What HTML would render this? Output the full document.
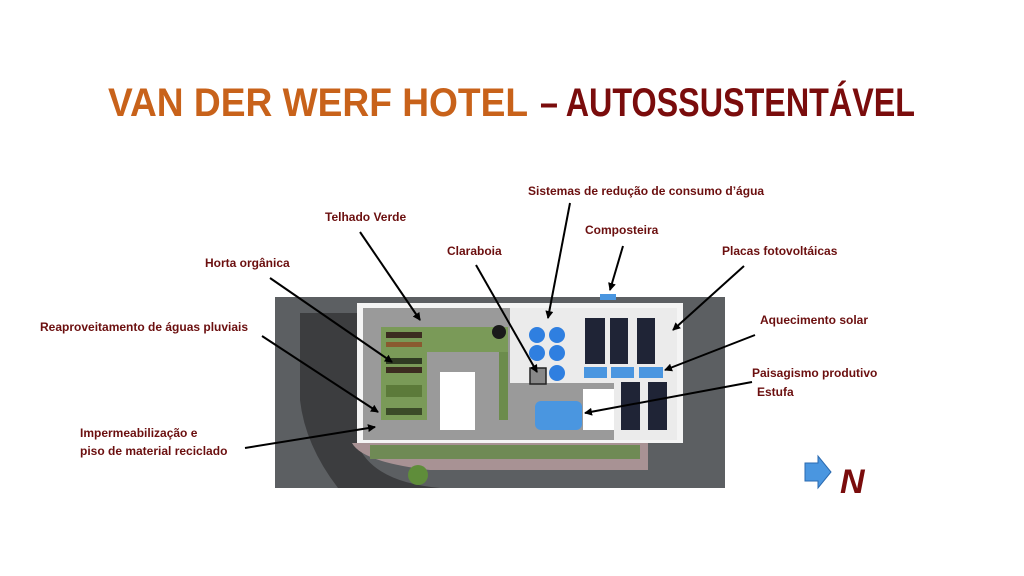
<!DOCTYPE html>
<html><head><meta charset="utf-8"><style>body{margin:0;background:#fff}svg{display:block}</style></head><body>
<svg width="1024" height="576" viewBox="0 0 1024 576" xmlns="http://www.w3.org/2000/svg" font-family="Liberation Sans, sans-serif">
<defs><marker id="a" markerWidth="8" markerHeight="8" refX="7" refY="4" orient="auto" markerUnits="userSpaceOnUse"><path d="M0,0 L8,4 L0,8 z" fill="#000"/></marker></defs>
<text y="116" font-size="40" font-weight="bold"><tspan x="108" fill="#c8621a" textLength="420" lengthAdjust="spacingAndGlyphs">VAN DER WERF HOTEL</tspan><tspan x="540" fill="#7a0c0c" textLength="375" lengthAdjust="spacingAndGlyphs">– AUTOSSUSTENTÁVEL</tspan></text>
<!-- plan -->
<rect x="275" y="297" width="450" height="191" fill="#5c5f62"/>
<path d="M300,313 L357,313 L357,443 Q372,482 440,488 L338,488 Q305,445 300,400 Z" fill="#3c3d3f"/>
<path d="M352,443 L648,443 L648,470 L430,470 Q362,462 352,443Z" fill="#a89294"/>
<rect x="370" y="445" width="270" height="14" fill="#6f8a55"/>
<circle cx="418" cy="475" r="10" fill="#5f8d3a"/>
<rect x="357" y="303" width="326" height="140" fill="#f4f4f4"/>
<rect x="363" y="308" width="314" height="132" fill="#9a9a9a"/>
<rect x="510" y="308" width="167" height="75" fill="#ebebeb"/>
<rect x="614" y="383" width="63" height="57" fill="#ebebeb"/>
<rect x="381" y="327" width="46" height="93" fill="#7a9a58"/>
<rect x="427" y="327" width="81" height="25" fill="#7a9a58"/>
<rect x="499" y="352" width="9" height="68" fill="#6c8c4c"/>
<rect x="386" y="332" width="36" height="6" fill="#3c2c20"/>
<rect x="386" y="342" width="36" height="5" fill="#8a5a30"/>
<rect x="386" y="358" width="36" height="6" fill="#2f3a22"/>
<rect x="386" y="367" width="36" height="6" fill="#3c2c20"/>
<rect x="386" y="385" width="36" height="12" fill="#5c7a3a"/>
<rect x="386" y="408" width="36" height="7" fill="#3b4a28"/>
<circle cx="499" cy="332" r="7" fill="#1a1a1a"/>
<rect x="440" y="372" width="35" height="58" fill="#fff"/>
<g fill="#2f7fe0"><circle cx="537" cy="335" r="8"/><circle cx="557" cy="335" r="8"/><circle cx="537" cy="353" r="8"/><circle cx="557" cy="353" r="8"/><circle cx="557" cy="373" r="8"/></g>
<rect x="530" y="368" width="16" height="16" fill="#888" stroke="#222" stroke-width="1.5"/>
<g fill="#1f2436"><rect x="585" y="318" width="20" height="46"/><rect x="610" y="318" width="18" height="46"/><rect x="637" y="318" width="18" height="46"/><rect x="621" y="382" width="19" height="48"/><rect x="648" y="382" width="19" height="48"/></g>
<g fill="#4a96e0"><rect x="584" y="367" width="23" height="11"/><rect x="611" y="367" width="23" height="11"/><rect x="639" y="367" width="24" height="11"/><rect x="600" y="294" width="16" height="6"/></g>
<rect x="535" y="401" width="47" height="29" rx="6" fill="#4a96e0"/>
<rect x="583" y="389" width="31" height="41" fill="#fff"/>
<!-- arrows -->
<g stroke="#000" stroke-width="2" marker-end="url(#a)">
<line x1="360" y1="232" x2="420" y2="320"/>
<line x1="270" y1="278" x2="392" y2="362"/>
<line x1="262" y1="336" x2="378" y2="412"/>
<line x1="245" y1="448" x2="375" y2="427"/>
<line x1="476" y1="265" x2="537" y2="372"/>
<line x1="570" y1="203" x2="548" y2="318"/>
<line x1="623" y1="246" x2="610" y2="290"/>
<line x1="744" y1="266" x2="673" y2="330"/>
<line x1="755" y1="335" x2="665" y2="370"/>
<line x1="752" y1="382" x2="585" y2="413"/>
</g>
<g fill="#6b0f0f" font-size="12" font-weight="bold">
<text x="325" y="221">Telhado Verde</text>
<text x="205" y="267">Horta orgânica</text>
<text x="40" y="331">Reaproveitamento de águas pluviais</text>
<text x="80" y="437">Impermeabilização e</text>
<text x="80" y="455">piso de material reciclado</text>
<text x="447" y="255">Claraboia</text>
<text x="528" y="195">Sistemas de redução de consumo d’água</text>
<text x="585" y="234">Composteira</text>
<text x="722" y="255">Placas fotovoltáicas</text>
<text x="760" y="324">Aquecimento solar</text>
<text x="752" y="377">Paisagismo produtivo</text>
<text x="757" y="396">Estufa</text>
</g>
<path d="M805,463 L818,463 L818,456 L831,472 L818,488 L818,481 L805,481 Z" fill="#4a96e0" stroke="#2a6ab0"/>
<text x="840" y="493" font-size="34" font-weight="bold" font-style="italic" fill="#7a0c0c">N</text>
</svg>
</body></html>
